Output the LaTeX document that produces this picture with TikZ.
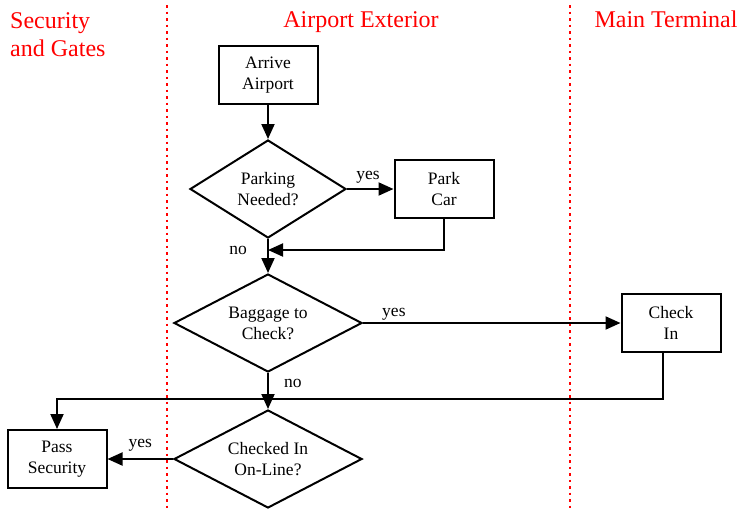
\documentclass[tikz,border=0pt]{standalone}
\usepackage{fontspec}
\setmainfont{Liberation Serif}
\usetikzlibrary{shapes.geometric,positioning,arrows.meta}

\begin{document}
\begin{tikzpicture}[x=1pt,y=-1pt,on grid,
	box/.style={draw,line width=2pt,minimum width=99pt,minimum height=58pt,inner sep=0pt,align=center,font=\fontsize{17.5}{21}\selectfont},
	decision/.style={draw,diamond,aspect=1.6,line width=2pt,minimum height=98pt,inner sep=0pt,align=center,font=\fontsize{17.5}{21}\selectfont},
	lane/.style={red,line width=2.5pt,dash pattern=on 2.5pt off 4pt},
	lanetitle/.style={red,inner sep=0pt,font=\fontsize{24}{28}\selectfont},
	flow/.style={line width=2pt,-{Triangle[length=15pt,width=13pt]}},
	lbl/.style={inner sep=2pt,font=\fontsize{17.5}{21}\selectfont}]
	\useasboundingbox (0,0) rectangle (743,509);
	% swim lanes
	\draw[lane] (167,5) -- (167,509);
	\draw[lane] (570,5) -- (570,509);
	\node[lanetitle,anchor=north west,align=left] (secgates) at (10,12) {Security\\and Gates};
	\node[lanetitle,anchor=base] (exterior) at (361,27) {Airport Exterior};
	\node[lanetitle,anchor=base] (terminal) at (666,27) {Main Terminal};
	% steps
	\node[box] (arrive) at (268,75) {Arrive\\Airport};
	\node[decision,minimum width=156pt](parking)[below=114pt of arrive] {Parking\\Needed?};
	\node[box](park)[right=176pt of parking] {Park\\Car};
	\node[decision,minimum width=188pt](baggage)[below=134pt of parking] {Baggage to\\Check?};
	\node[box](checkin)[right=403pt of baggage] {Check\\In};
	\node[decision,minimum width=188pt](checked)[below=136pt of baggage] {Checked In\\On-Line?};
	\node[box](pass)[left=211pt of checked] {Pass\\Security};
	\coordinate[below=61pt of parking] (join1);
	\coordinate[below=76pt of baggage] (join2);
	% connectors
	\draw[flow] (arrive) -- (parking);
	\draw[flow] (parking) -- node[lbl,anchor=south,pos=0.45,yshift=3pt] (yes1) {yes} (park);
	\draw[flow] (park.south) |- (join1);
	\draw[flow] (parking) -- (baggage);
	\node[lbl](no1)[left=19pt of join1] {no};
	\draw[flow] (baggage) -- node[lbl,anchor=south,pos=0.12] (yes2) {yes} (checkin);
	\draw[flow] (baggage) -- node[lbl,anchor=west,pos=0.3,xshift=13pt] (no2) {no} (checked);
	\draw[flow] ([xshift=-8pt]checkin.south) |- (join2) -| (pass.north);
	\draw[flow] (checked) -- node[lbl,anchor=south,yshift=5pt] (yes3) {yes} (pass);
\end{tikzpicture}
\end{document}
